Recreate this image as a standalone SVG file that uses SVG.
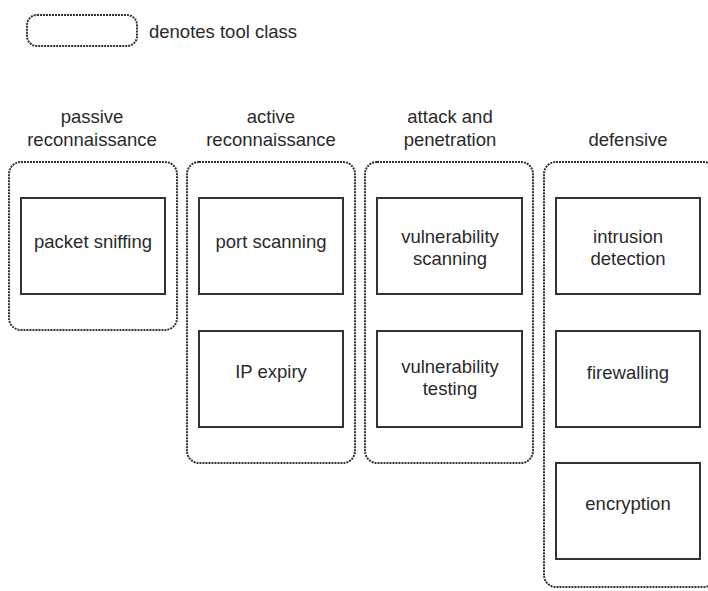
<svg xmlns="http://www.w3.org/2000/svg" width="708" height="591" viewBox="0 0 708 591">
<style>
text{font-family:"Liberation Sans",Arial,sans-serif;font-size:18.5px;fill:#2a2a2a;text-anchor:middle}
.cls{fill:none;stroke:#333;stroke-width:2;stroke-dasharray:2 1}
.tool{fill:#fff;stroke:#333;stroke-width:2}
</style>
<rect width="708" height="591" fill="#fff"/>
<g id="legend">
<rect class="cls" x="27" y="15" width="110" height="31" rx="10"/>
<text x="149" y="38" style="text-anchor:start">denotes tool class</text>
</g>
<g id="class-passive">
<text x="92" y="123">passive</text>
<text x="92" y="146">reconnaissance</text>
<rect class="cls" x="9" y="162" width="168" height="168" rx="12"/>
</g>
<g id="class-active">
<text x="271" y="123">active</text>
<text x="271" y="146">reconnaissance</text>
<rect class="cls" x="187" y="162" width="168" height="301" rx="12"/>
</g>
<g id="class-attack">
<text x="450" y="123">attack and</text>
<text x="450" y="146">penetration</text>
<rect class="cls" x="365" y="162" width="168" height="301" rx="12"/>
</g>
<g id="class-defensive">
<text x="628" y="146">defensive</text>
<rect class="cls" x="544" y="162" width="172" height="425" rx="12"/>
</g>
<g id="packet-sniffing"><rect class="tool" x="21" y="198" width="144" height="96"/><text x="93" y="248">packet sniffing</text></g>
<g id="port-scanning"><rect class="tool" x="199" y="198" width="144" height="96"/><text x="271" y="248">port scanning</text></g>
<g id="ip-expiry"><rect class="tool" x="199" y="331" width="144" height="96"/><text x="271" y="378">IP expiry</text></g>
<g id="vulnerability-scanning"><rect class="tool" x="377" y="198" width="145" height="96"/><text x="450" y="243">vulnerability</text><text x="450" y="265">scanning</text></g>
<g id="vulnerability-testing"><rect class="tool" x="377" y="331" width="145" height="96"/><text x="450" y="373">vulnerability</text><text x="450" y="395">testing</text></g>
<g id="intrusion-detection"><rect class="tool" x="556" y="198" width="144" height="96"/><text x="628" y="243">intrusion</text><text x="628" y="265">detection</text></g>
<g id="firewalling"><rect class="tool" x="556" y="331" width="144" height="96"/><text x="628" y="379">firewalling</text></g>
<g id="encryption"><rect class="tool" x="556" y="463" width="144" height="96"/><text x="628" y="510">encryption</text></g>
<g id="connectors"></g>
</svg>
